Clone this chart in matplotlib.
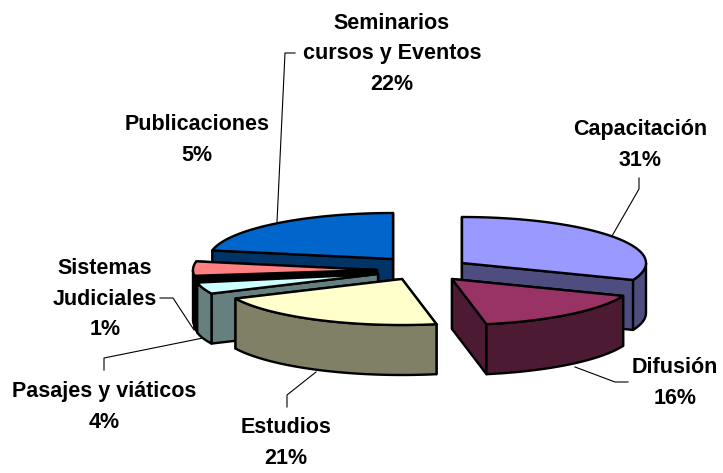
#!/usr/bin/env python3

import numpy as np
import matplotlib
matplotlib.use('Agg')
import matplotlib.pyplot as plt

plt.rcParams['font.family'] = ['Liberation Sans', 'DejaVu Sans']

# Chart data, clockwise from 12 o'clock
names = ['Capacitación', 'Difusión', 'Estudios', 'Pasajes y viáticos',
         'Sistemas\nJudiciales', 'Publicaciones', 'Seminarios\ncursos y Eventos']
values = [31, 16, 21, 4, 1, 5, 22]

top_colors = ['#9999FF', '#993366', '#FFFFCC', '#CCFFFF', '#000000', '#FF8080', '#0066CC']
wall_colors = ['#4D4D80', '#4D1A33', '#808066', '#668080', '#000000', '#804040', '#003366']

# Pixel position of each exploded slice's apex, and of its label
apex_x = [462, 452, 402, 378, 377, 377, 393]
apex_y = [263, 279, 279, 274, 272, 270, 259]
label_x = [640, 675, 286, 104, 105, 197, 392]
label_y = [145, 383, 443, 407, 299, 140, 54]

# Leader lines, None where the label has none
leaders = [
    ([639, 639, 612], [178, 189, 236]),
    ([628, 615, 575], [382, 382, 367]),
    ([287, 287, 316], [407, 395, 372]),
    ([104, 104, 203], [370, 358, 338]),
    ([160, 173, 194], [298, 298, 330]),
    None,
    ([295, 285, 277], [53, 53, 222]),
]

rx = 184
ry = 46
depth = 50
edge_lw = 1.7


def rim(cx, cy, a0, a1):
    '''Points along the ellipse between two angles, degrees clockwise from top'''
    t = np.radians(np.linspace(a0, a1, max(int(abs(a1 - a0)) * 2, 2)))
    return cx + rx * np.sin(t), cy - ry * np.cos(t)


def draw_slice(ax, cx, cy, a0, a1, top, wall, z):
    # radial walls, the one further back first
    x0, y0 = rim(cx, cy, a0, a0)
    x1, y1 = rim(cx, cy, a1, a1)
    ends = sorted([(y0[0], x0[0]), (y1[0], x1[0])])
    for ey, ex in ends:
        ax.fill([cx, ex, ex, cx], [cy, ey, ey + depth, cy + depth],
                facecolor=wall, edgecolor='black', lw=edge_lw, joinstyle='round', zorder=z)
    # outer wall, only the part that faces the viewer
    lo, hi = max(a0, 90), min(a1, 270)
    if hi > lo:
        xs, ys = rim(cx, cy, lo, hi)
        ax.fill(np.r_[xs, xs[::-1]], np.r_[ys, ys[::-1] + depth],
                facecolor=wall, edgecolor='black', lw=edge_lw, joinstyle='round', zorder=z)
    # top face
    xs, ys = rim(cx, cy, a0, a1)
    ax.fill(np.r_[cx, xs], np.r_[cy, ys],
            facecolor=top, edgecolor='black', lw=edge_lw, joinstyle='round', zorder=z)


fig = plt.figure(figsize=[7.23, 4.73], dpi=100)
ax = fig.add_axes([0, 0, 1, 1])
ax.set_xlim(0, 723)
ax.set_ylim(473, 0)
ax.axis('off')

ends = np.cumsum(values) * 3.6
starts = np.r_[0, ends[:-1]]

# Back slices first so the front ones overlap them
draw_order = [6, 5, 4, 3, 2, 0, 1]
for z, i in enumerate(draw_order):
    draw_slice(ax, apex_x[i], apex_y[i], starts[i], ends[i],
               top_colors[i], wall_colors[i], z + 2)

for leader in leaders:
    if leader is not None:
        ax.plot(leader[0], leader[1], color='black', lw=0.8, zorder=20)

for i in range(len(names)):
    ax.text(label_x[i], label_y[i], f'{names[i]}\n{values[i]}%', ha='center', va='center',
            fontsize=15.5, fontweight='bold', linespacing=1.6, color='black', zorder=21)

fig.savefig('out.png', dpi=100)
